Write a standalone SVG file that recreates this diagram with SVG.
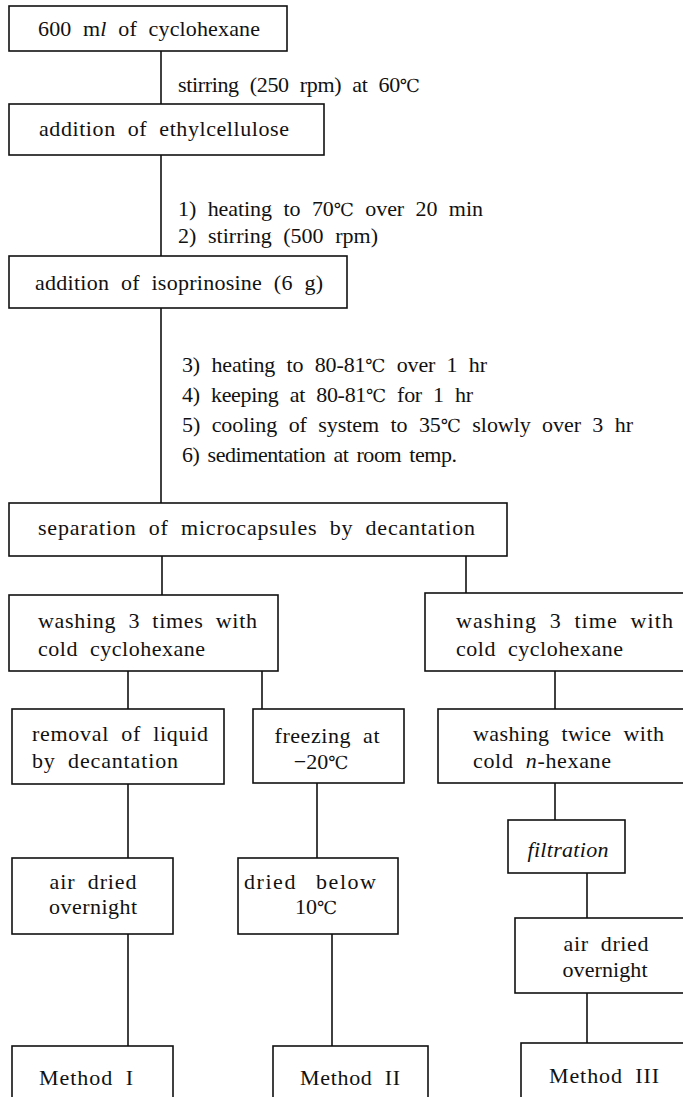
<svg xmlns="http://www.w3.org/2000/svg" width="683" height="1097" viewBox="0 0 683 1097">
<style>
rect{fill:#fff;stroke:#111;stroke-width:1.6}
line{stroke:#111;stroke-width:1.6}
text{font-family:'Liberation Serif','Times New Roman','DejaVu Serif',serif;font-size:22px;fill:#111;word-spacing:6px}
.m{text-anchor:middle}
.i{font-style:italic}
.c{font-size:18px}
</style>
<rect width="683" height="1097" style="stroke:none"/>
<g id="connectors">
<line x1="161" y1="51" x2="161" y2="104"/>
<line x1="161" y1="155" x2="161" y2="256"/>
<line x1="161" y1="308" x2="161" y2="503"/>
<line x1="162" y1="556" x2="162" y2="595"/>
<line x1="466" y1="556" x2="466" y2="593"/>
<line x1="128" y1="671" x2="128" y2="709"/>
<line x1="262" y1="671" x2="262" y2="709"/>
<line x1="555" y1="671" x2="555" y2="709"/>
<line x1="128" y1="784" x2="128" y2="858"/>
<line x1="317" y1="783" x2="317" y2="858"/>
<line x1="555" y1="783" x2="555" y2="820"/>
<line x1="587" y1="873" x2="587" y2="918"/>
<line x1="128" y1="934" x2="128" y2="1046"/>
<line x1="332" y1="934" x2="332" y2="1046"/>
<line x1="587" y1="993" x2="587" y2="1043"/>
</g>
<g id="labels">
<text x="178" y="92" textLength="242" lengthAdjust="spacing">stirring (250 rpm) at 60<tspan class="c">℃</tspan></text>
<text x="178" y="216" textLength="305" lengthAdjust="spacing">1) heating to 70<tspan class="c">℃</tspan> over 20 min</text>
<text x="178" y="243" textLength="200" lengthAdjust="spacing">2) stirring (500 rpm)</text>
<text x="182" y="372" textLength="305" lengthAdjust="spacing">3) heating to 80-81<tspan class="c">℃</tspan> over 1 hr</text>
<text x="182" y="402" textLength="291" lengthAdjust="spacing">4) keeping at 80-81<tspan class="c">℃</tspan> for 1 hr</text>
<text x="182" y="432" textLength="451" lengthAdjust="spacing">5) cooling of system to 35<tspan class="c">℃</tspan> slowly over 3 hr</text>
<text x="182" y="462" textLength="275" lengthAdjust="spacing" style="word-spacing:3px">6) sedimentation at room temp.</text>
</g>
<g id="n1"><rect x="9" y="6" width="278" height="45"/><text x="38" y="36" textLength="222" lengthAdjust="spacing">600 m<tspan class="i">l</tspan> of cyclohexane</text></g>
<g id="n2"><rect x="9" y="104" width="315" height="51"/><text x="39" y="136" textLength="250" lengthAdjust="spacing">addition of ethylcellulose</text></g>
<g id="n3"><rect x="9" y="256" width="338" height="52"/><text x="35" y="290" textLength="288" lengthAdjust="spacing">addition of isoprinosine (6 g)</text></g>
<g id="n4"><rect x="9" y="503" width="498" height="53"/><text x="38" y="535" textLength="437" lengthAdjust="spacing">separation of microcapsules by decantation</text></g>
<g id="n5"><rect x="9" y="595" width="269" height="76"/><text x="38" y="628" textLength="219" lengthAdjust="spacing">washing 3 times with</text><text x="38" y="656" textLength="167" lengthAdjust="spacing">cold cyclohexane</text></g>
<g id="n6"><rect x="425" y="593" width="270" height="78"/><text x="456" y="628" textLength="217" lengthAdjust="spacing">washing  3 time with</text><text x="456" y="656" textLength="167" lengthAdjust="spacing">cold cyclohexane</text></g>
<g id="n7"><rect x="12" y="709" width="212" height="75"/><text x="32" y="741" textLength="176" lengthAdjust="spacing">removal of liquid</text><text x="32" y="768" textLength="146" lengthAdjust="spacing">by decantation</text></g>
<g id="n8"><rect x="253" y="709" width="151" height="74"/><text class="m" x="327" y="743" textLength="105" lengthAdjust="spacing">freezing at</text><text class="m" x="321" y="769">−20<tspan class="c">℃</tspan></text></g>
<g id="n9"><rect x="438" y="709" width="257" height="74"/><text x="473" y="741" textLength="191" lengthAdjust="spacing">washing twice with</text><text x="473" y="768" textLength="138" lengthAdjust="spacing">cold <tspan class="i">n</tspan>-hexane</text></g>
<g id="n10"><rect x="508" y="820" width="117" height="53"/><text class="m i" x="568" y="857" textLength="81" lengthAdjust="spacing">filtration</text></g>
<g id="n11"><rect x="12" y="858" width="161" height="76"/><text class="m" x="93" y="889" textLength="87" lengthAdjust="spacing">air dried</text><text class="m" x="93" y="914" textLength="88" lengthAdjust="spacing">overnight</text></g>
<g id="n12"><rect x="238" y="858" width="160" height="76"/><text class="m" x="310" y="889" textLength="132" lengthAdjust="spacing" style="word-spacing:12px">dried below</text><text class="m" x="316" y="914">10<tspan class="c">℃</tspan></text></g>
<g id="n13"><rect x="515" y="918" width="180" height="75"/><text class="m" x="606" y="951" textLength="85" lengthAdjust="spacing">air dried</text><text class="m" x="605" y="977" textLength="85" lengthAdjust="spacing">overnight</text></g>
<g id="n14"><rect x="12" y="1046" width="161" height="70"/><text class="m" x="86" y="1085" textLength="94" lengthAdjust="spacing">Method I</text></g>
<g id="n15"><rect x="273" y="1046" width="155" height="70"/><text class="m" x="350" y="1085" textLength="100" lengthAdjust="spacing">Method II</text></g>
<g id="n16"><rect x="521" y="1043" width="174" height="73"/><text class="m" x="604" y="1083" textLength="110" lengthAdjust="spacing">Method III</text></g>
</svg>
